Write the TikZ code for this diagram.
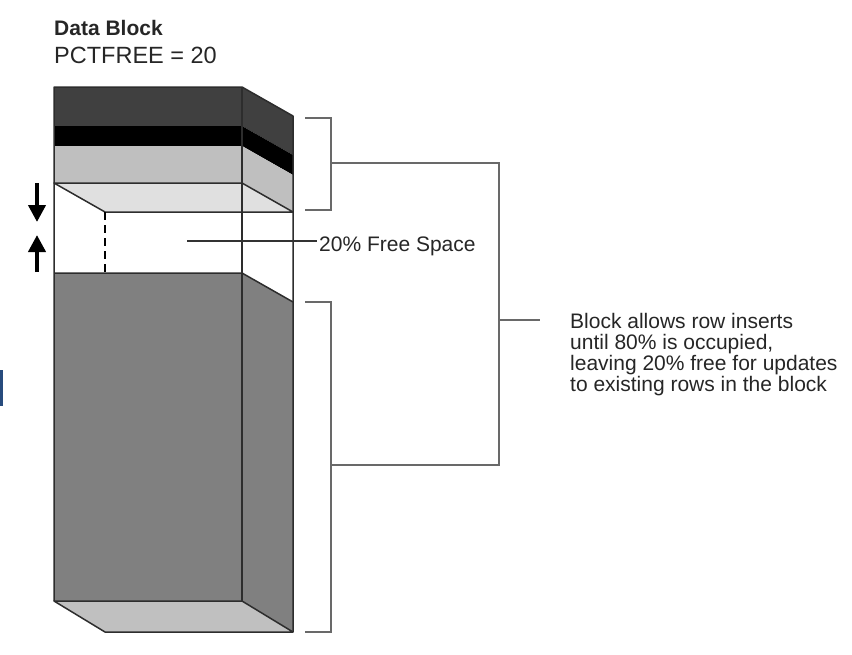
\documentclass[tikz,border=0pt]{standalone}
\usepackage{fontspec}
\setmainfont{Liberation Sans}
\usetikzlibrary{arrows.meta,positioning,calc}
\usepackage{xcolor}
\definecolor{darkband}{RGB}{64,64,64}
\definecolor{lightband}{RGB}{191,191,191}
\definecolor{freetop}{RGB}{224,224,224}
\definecolor{rowcol}{RGB}{128,128,128}
\definecolor{floorcol}{RGB}{192,192,192}
\definecolor{edgecol}{RGB}{45,45,45}
\definecolor{bracecol}{RGB}{105,105,105}
\definecolor{markcol}{RGB}{40,75,125}
\tikzset{
  % outline of the block faces
  faceline/.style={draw=edgecol, line width=1.5pt, line join=round},
  % bracket and leader lines
  braceline/.style={draw=bracecol, line width=1.5pt},
  % growth arrows at the left
  movearrow/.style={-{Triangle[length=17pt,width=17pt]}, line width=4pt, black},
  % labels
  labeltext/.style={inner sep=0pt, font=\fontsize{21}{21}\selectfont, text=black!85},
}

\begin{document}
\begin{tikzpicture}[x=1pt,y=-1pt]
  \useasboundingbox (0,0) rectangle (852,654);

  % Title
  \node[labeltext, anchor=base west, font=\fontsize{21}{21}\selectfont\bfseries] (title) at (54,35) {Data Block};
  \node[labeltext, anchor=base west, font=\fontsize{23.5}{24}\selectfont] (pct) at (54,63) {PCTFREE = 20};

  % Header bands (front and side)
  \foreach \ya/\yb/\col in {87/126/darkband, 126/146/black, 146/183/lightband} {
    \fill[\col] (54,\ya) rectangle (242,\yb);
    \fill[\col] (242,\ya) -- (293,\ya+29) -- (293,\yb+29) -- (242,\yb) -- cycle;
  }

  % Free space: top face
  \fill[freetop] (54,183) -- (242,183) -- (293,212) -- (105,212) -- cycle;

  % Rows: front and side
  \fill[rowcol] (54,273) rectangle (242,601);
  \fill[rowcol] (242,273) -- (293,302) -- (293,632) -- (242,601) -- cycle;

  % Bottom face
  \fill[floorcol] (54,601) -- (242,601) -- (293,632) -- (105,632) -- cycle;

  % Outlines
  \draw[faceline] (54,601) -- (54,87) -- (242,87) -- (293,116) -- (293,632);
  \draw[faceline] (242,87) -- (242,601);
  \draw[faceline] (54,183) -- (242,183) -- (293,212) -- (105,212) -- cycle;
  \draw[faceline] (54,273) -- (242,273) -- (293,302);
  \draw[faceline] (54,601) -- (242,601) -- (293,632) -- (105,632) -- cycle;
  \draw[black, line width=2pt, dash pattern=on 8pt off 5pt] (105,212) -- (105,273);

  % Growth arrows
  \coordinate (dnA) at (37,183);
  \coordinate (dnB) at (37,222);
  \coordinate (upA) at (37,272);
  \coordinate (upB) at (37,235);
  \draw[movearrow] (dnA) -- (dnB);
  \draw[movearrow] (upA) -- (upB);

  % Free space label
  \node[labeltext, anchor=base west, inner sep=2pt] (freelbl) at (317,251) {20\% Free Space};
  \coordinate (freemid) at (187,241);
  \draw[braceline, line width=1.2pt, draw=black!80] (freemid) -- (freelbl.west |- freemid);

  % Brackets
  \coordinate (topA) at (305,118);
  \coordinate (topB) at (305,210);
  \coordinate (botA) at (305,302);
  \coordinate (botB) at (305,632);
  \draw[braceline] (topA) -| (331,210) -- (topB);
  \draw[braceline] (botA) -| (331,632) -- (botB);
  \coordinate (joinT) at (499,163);
  \coordinate (joinB) at (499,465);
  \draw[braceline] (331,163) -- (joinT) -- (joinB) -- (331,465);

  % Note
  \node[labeltext, anchor=north west, align=left] (note) at (570,313)
    {Block allows row inserts\\until 80\% is occupied,\\leaving 20\% free for updates\\to existing rows in the block};
  \coordinate (noteL) at (540,320);
  \draw[braceline] (joinT |- noteL) -- (noteL);

  % Edge mark at the left border
  \fill[markcol] (0,370) rectangle (3,406);
\end{tikzpicture}
\end{document}
